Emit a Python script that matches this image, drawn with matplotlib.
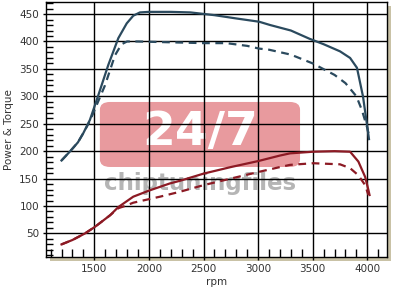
import matplotlib
matplotlib.use("Agg")
import matplotlib.pyplot as plt
from matplotlib.patches import FancyBboxPatch, Rectangle
from matplotlib.ticker import MultipleLocator

# Tuned torque (solid blue)
torque_tuned_rpm = [1200, 1280, 1350, 1400, 1460, 1537, 1628, 1720, 1797, 1857, 1918, 2000, 2200, 2380, 2600, 2800, 3010, 3110, 3300, 3470, 3600, 3750, 3842, 3905, 3960, 4000, 4015]
torque_tuned_val = [183, 200, 216, 233, 257, 302, 357, 406, 433, 447, 453, 454, 454, 453, 448, 442, 436, 430, 420, 405, 395, 382, 370, 352, 300, 244, 222]

# Stock torque (dashed blue)
torque_stock_rpm = [1200, 1280, 1350, 1400, 1460, 1530, 1598, 1690, 1750, 1800, 1900, 2100, 2300, 2500, 2710, 2900, 3010, 3100, 3300, 3500, 3700, 3800, 3900, 3950, 4000, 4015]
torque_stock_val = [183, 200, 216, 233, 255, 288, 320, 375, 395, 400, 400, 399, 398, 397, 397, 392, 387, 385, 376, 360, 339, 324, 300, 275, 242, 228]

# Tuned power (solid red)
power_tuned_rpm = [1200, 1300, 1415, 1506, 1644, 1720, 1857, 2000, 2190, 2285, 2500, 2750, 3002, 3200, 3292, 3505, 3700, 3842, 3918, 3980, 4010, 4020]
power_tuned_val = [30, 38, 50, 62, 83, 98, 117, 128, 141, 146, 159, 171, 182, 192, 196, 199, 200, 199, 181, 153, 129, 120]

# Stock power (dashed red)
power_stock_rpm = [1200, 1300, 1415, 1506, 1644, 1720, 1780, 1857, 2102, 2285, 2500, 2750, 3002, 3200, 3292, 3505, 3750, 3842, 3918, 3980, 4010]
power_stock_val = [30, 38, 50, 62, 83, 96, 100, 106, 117, 126, 138, 150, 162, 171, 175, 178, 176, 169, 156, 138, 120]

x_ticks = [1500, 2000, 2500, 3000, 3500, 4000]
y_ticks = [50, 100, 150, 200, 250, 300, 350, 400, 450]

blue = "#2b4a5e"
red = "#8c1a24"

fig = plt.figure(figsize=(4.01, 2.97), dpi=100)
fig.patch.set_facecolor("white")
L, B, R, T = 46/401, 1-257/297, 387/401, 1-2/297
# beige shadow
fig.patches.append(Rectangle((L + 4/401, B - 4/297), R - L, T - B, transform=fig.transFigure,
                             facecolor="#c9c2a6", edgecolor="none", zorder=0))
ax = fig.add_axes([L, B, R - L, T - B])
ax.set_zorder(1)
ax.set_facecolor("white")

ax.set_xlim(1058, 4180)
ax.set_ylim(7, 472)
ax.set_xticks(x_ticks)
ax.set_yticks(y_ticks)
ax.xaxis.set_minor_locator(MultipleLocator(100))
ax.yaxis.set_minor_locator(MultipleLocator(10))
ax.tick_params(axis="both", which="major", length=2, width=1, color="black",
               labelsize=7.5, labelcolor="#333333", pad=3)
ax.tick_params(axis="x", which="minor", direction="in", length=6, width=1, color="black")
ax.tick_params(axis="y", which="minor", direction="in", length=5, width=1, color="black")
ax.tick_params(axis="x", which="minor", bottom=True, top=False)
ax.tick_params(axis="y", which="minor", left=True, right=False)
for s in ax.spines.values():
    s.set_color("black")
    s.set_linewidth(1)

# watermark
box = FancyBboxPatch((0.158, 0.353), 0.587, 0.255, transform=ax.transAxes,
                     boxstyle="round,pad=0.0,rounding_size=0.03",
                     facecolor="#e89a9e", edgecolor="none", zorder=1)
ax.add_patch(box)
ax.text(0.452, 0.49, "24/7", transform=ax.transAxes, ha="center", va="center",
        fontsize=34, fontweight="bold", color="white", zorder=1.1)
ax.text(0.452, 0.29, "chiptuningfiles", transform=ax.transAxes, ha="center", va="center",
        fontsize=16.5, fontweight="bold", color="#b5b5b5", zorder=1.1)

# grid drawn above the watermark
for xv in x_ticks:
    ax.axvline(xv, color="black", lw=1, zorder=2)
for yv in y_ticks:
    ax.axhline(yv, color="black", lw=1, zorder=2)

ax.plot(torque_tuned_rpm, torque_tuned_val, color=blue, lw=1.6, zorder=3)
ax.plot(torque_stock_rpm, torque_stock_val, color=blue, lw=1.6, dashes=(3.5, 2.5), zorder=3)
ax.plot(power_tuned_rpm, power_tuned_val, color=red, lw=1.6, zorder=3)
ax.plot(power_stock_rpm, power_stock_val, color=red, lw=1.6, dashes=(3.5, 2.5), zorder=3)

ax.set_xlabel("rpm", fontsize=7.5, color="#333333", labelpad=2)
ax.set_ylabel("Power & Torque", fontsize=7.5, color="#333333", labelpad=4)

fig.savefig("out.png", dpi=100)
